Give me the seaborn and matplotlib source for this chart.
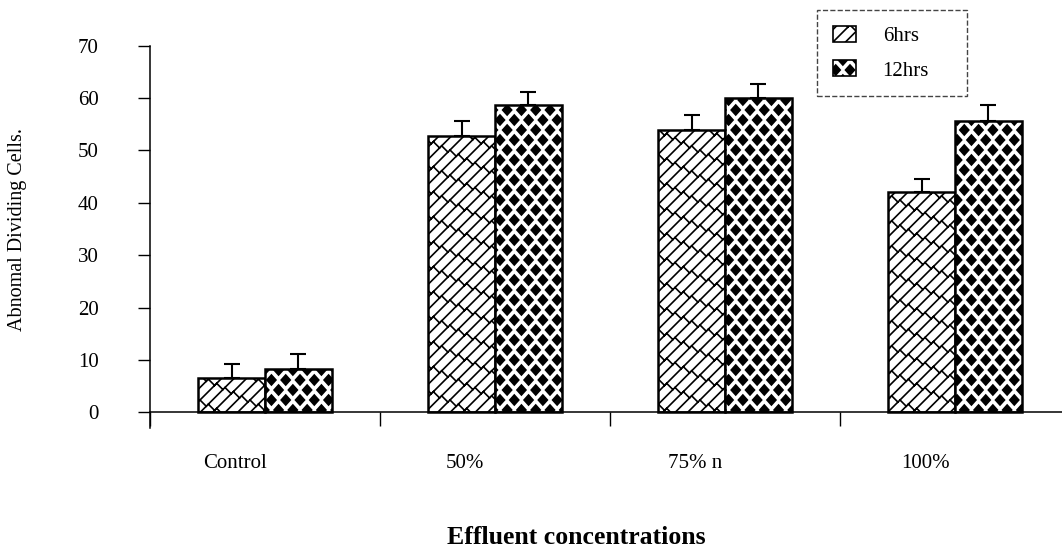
import numpy as np
import pandas as pd
import seaborn as sns
import matplotlib.pyplot as plt
import matplotlib.hatch as mhatch
from matplotlib.path import Path
from matplotlib.patches import Patch

categories = ['Control', '50%', '75% n', '100%']
times = ['6hrs', '12hrs']
hrs6 = [6.5, 52.8, 54.0, 42.1]
hrs12 = [8.2, 58.7, 60.0, 55.6]
err6 = [2.8, 2.9, 2.7, 2.5]
err12 = [2.9, 2.5, 2.7, 3.1]
yticks = [0, 10, 20, 30, 40, 50, 60, 70]


# brick hatch for the 6hrs bars (used for '/')
class BrickHatch(mhatch.HatchPatternBase):
    n, m = 8, 6

    def __init__(self, hatch, density):
        lines = 2 * self.n + 1
        self.num_vertices = 2 * (lines + lines * (self.m + 2)) if '/' in hatch else 0

    def set_vertices_and_codes(self, vertices, codes):
        segs = []
        h = 0.5 / self.n
        for k in range(-self.n, self.n + 1):
            b = k / self.n
            segs.append([(0, b), (1, 1 + b)])
        for k in range(-self.n, self.n + 1):
            b = k / self.n
            for j in range(-1, self.m + 1):
                t = (j + 0.5 * (k % 2)) / self.m
                segs.append([(t, t + b), (t + h, t + b - h)])
        vertices[:] = np.array(segs).reshape(-1, 2)
        codes[0::2] = Path.MOVETO
        codes[1::2] = Path.LINETO


# black diamonds for the 12hrs bars (used for '*')
class DiamondHatch(mhatch.HatchPatternBase):
    cols, rows, rx, ry = 7, 10, 0.045, 0.05

    def __init__(self, hatch, density):
        self.centers = []
        for r in range(self.rows + 1):
            off = 0.5 * (r % 2)
            for c in range(-1, self.cols + 1):
                self.centers.append(((c + off) / self.cols, r / self.rows))
        self.num_vertices = 5 * len(self.centers) if '*' in hatch else 0

    def set_vertices_and_codes(self, vertices, codes):
        shape = np.array([(0, self.ry), (-self.rx, 0), (0, -self.ry),
                          (self.rx, 0), (0, self.ry)])
        vertices[:] = np.concatenate([shape + c for c in self.centers])
        codes[:] = np.tile([Path.MOVETO, Path.LINETO, Path.LINETO,
                            Path.LINETO, Path.CLOSEPOLY], len(self.centers))


mhatch._hatch_types = [BrickHatch, DiamondHatch]

sns.set_style('ticks')
plt.rcParams['font.family'] = ['Liberation Serif', 'DejaVu Serif']
plt.rcParams['hatch.linewidth'] = 1.2
for key in ['text.color', 'axes.labelcolor', 'xtick.color', 'ytick.color']:
    plt.rcParams[key] = 'black'

df = pd.DataFrame({
    'conc': categories * 2,
    'time': ['6hrs'] * 4 + ['12hrs'] * 4,
    'value': hrs6 + hrs12,
})

fig = plt.figure(figsize=(10.62, 5.52), dpi=100)
ax = fig.add_axes([0.1412, 0.2246, 0.8588, 0.6926])

sns.barplot(data=df, x='conc', y='value', hue='time', order=categories,
            hue_order=times, palette=['white', 'white'], width=0.58,
            edgecolor='black', linewidth=1.8, saturation=1, errorbar=None,
            legend=False, ax=ax)

for cont, hatch, err in zip(ax.containers, ['/', '*'], [err6, err12]):
    xs, ys = [], []
    for bar in cont:
        bar.set_hatch(hatch)
        xs.append(bar.get_x() + bar.get_width() / 2)
        ys.append(bar.get_height())
    ax.errorbar(xs, ys, yerr=[np.zeros(len(err)), err], fmt='none',
                ecolor='black', elinewidth=1.5, capsize=5.5, capthick=1.5, zorder=3)

ax.set_ylim(-3, 70)
ax.set_xlim(-0.5, 3.465)
ax.set_yticks(yticks)
ax.tick_params(axis='y', direction='out', length=9, width=1, pad=28, labelsize=15)

ax.set_xticks([-0.5, 0.5, 1.5, 2.5], labels=[])
ax.set_xticks([i - 0.13 for i in range(len(categories))], labels=categories, minor=True)
ax.tick_params(axis='x', which='major', direction='out', length=10, width=1)
ax.tick_params(axis='x', which='minor', length=0, pad=30, labelsize=15)

ax.spines['bottom'].set_position(('data', 0))
ax.spines['top'].set_visible(False)
ax.spines['right'].set_visible(False)
for s in ['left', 'bottom']:
    ax.spines[s].set_linewidth(1.1)
    ax.spines[s].set_color('black')

ax.set_ylabel('Abnomal Dividing Cells.', fontsize=14.5)
ax.yaxis.set_label_coords(-0.135, 0.52)
ax.set_xlabel('Effluent concentrations', fontsize=18.5, fontweight='bold')
ax.xaxis.set_label_coords(0.467, -0.255)

handles = [Patch(facecolor='white', edgecolor='black', hatch=h, linewidth=1.2)
           for h in ['/', '*']]
leg = fig.legend(handles, times, loc='upper left',
                 bbox_to_anchor=(817 / 1062, 1 - 98 / 552, 150 / 1062, 88 / 552),
                 mode='expand', fontsize=15, fancybox=False, framealpha=1,
                 borderpad=0.75, labelspacing=0.7, handlelength=1.1,
                 handleheight=0.8, handletextpad=1.3, borderaxespad=0)
leg.get_frame().set_linestyle('--')
leg.get_frame().set_edgecolor('#444444')
leg.get_frame().set_linewidth(1.0)

plt.savefig('out.png', dpi=100)
